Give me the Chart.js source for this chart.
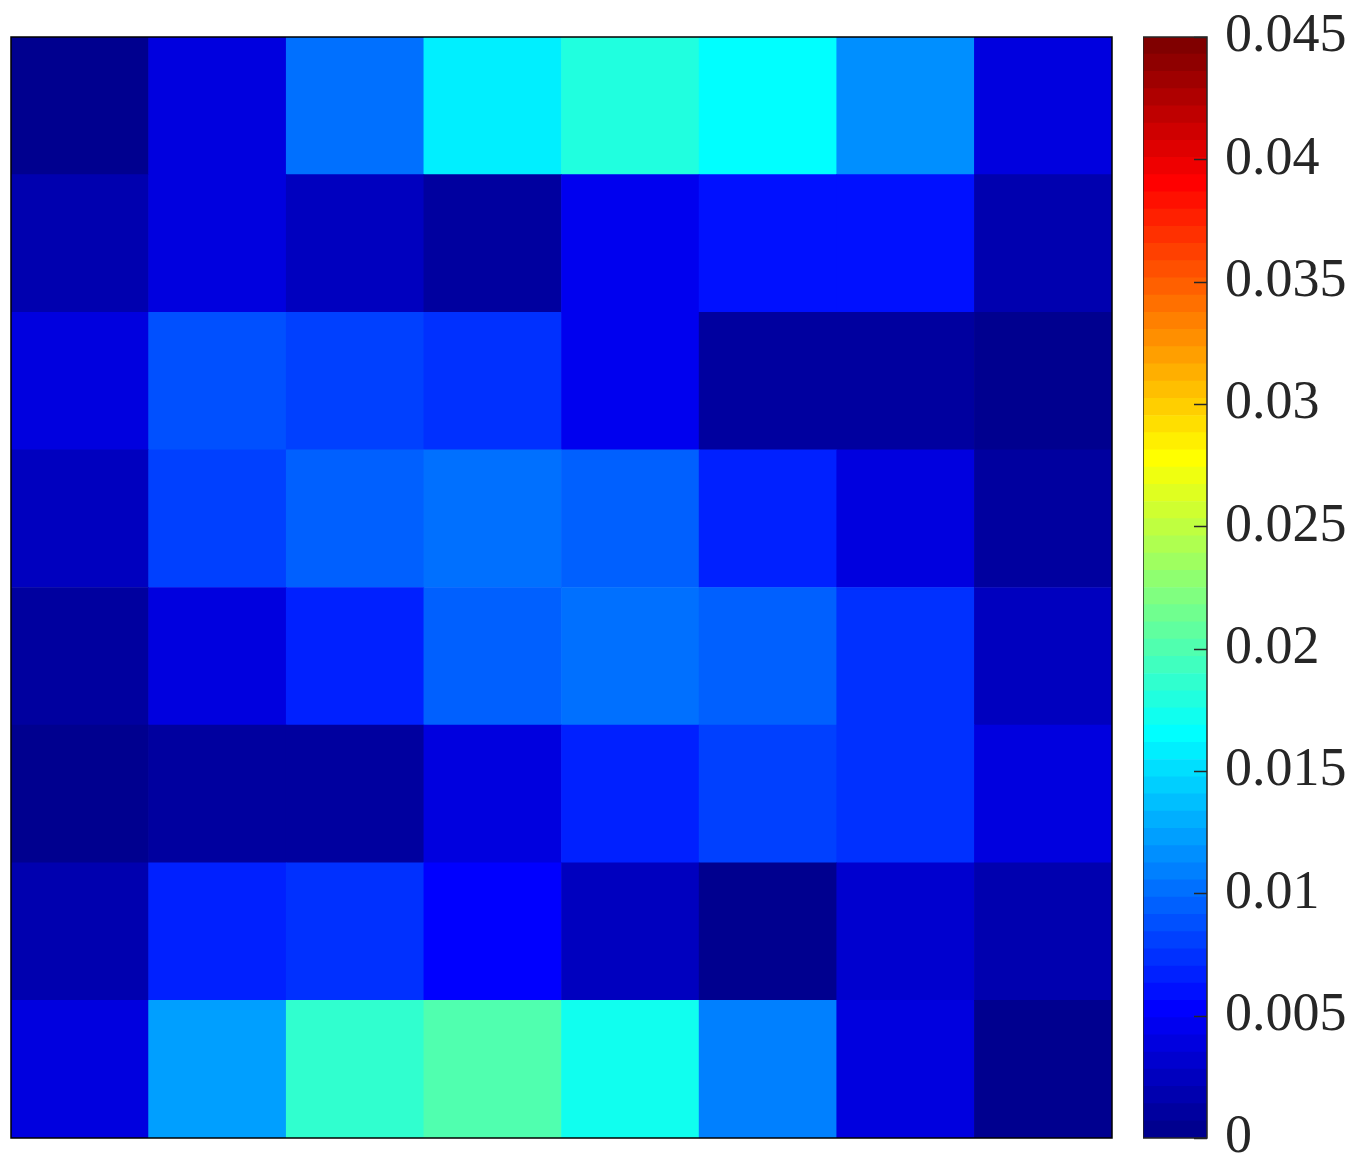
<!DOCTYPE html>
<html>
<head>
<meta charset="utf-8">
<script src="https://cdn.jsdelivr.net/npm/chart.js@4.4.1/dist/chart.umd.min.js"></script>
<style>
  html, body { margin: 0; padding: 0; background: #fff; overflow: hidden; }
  #heat { position: absolute; left: 0; top: 0; width: 1130px; height: 1162px; }
  #cbar { position: absolute; left: 1143px; top: 0; width: 220px; height: 1162px; }
</style>
</head>
<body>
<div id="heat"><canvas id="heatmap"></canvas></div>
<div id="cbar"><canvas id="colorbar"></canvas></div>
<script>
// columns of the grid, rows listed top to bottom
const columns = ['1', '2', '3', '4', '5', '6', '7', '8'];
const row1 = [0.0003, 0.0038, 0.0102, 0.0158, 0.0179, 0.0165, 0.0116, 0.0038];
const row2 = [0.0017, 0.0038, 0.0024, 0.0010, 0.0045, 0.0062, 0.0062, 0.0017];
const row3 = [0.0038, 0.0087, 0.0084, 0.0077, 0.0045, 0.0010, 0.0010, 0.0003];
const row4 = [0.0024, 0.0080, 0.0098, 0.0102, 0.0094, 0.0070, 0.0038, 0.0010];
const row5 = [0.0010, 0.0038, 0.0070, 0.0098, 0.0102, 0.0094, 0.0073, 0.0024];
const row6 = [0.0003, 0.0010, 0.0010, 0.0038, 0.0070, 0.0080, 0.0073, 0.0041];
const row7 = [0.0017, 0.0066, 0.0073, 0.0052, 0.0024, 0.0003, 0.0031, 0.0017];
const row8 = [0.0038, 0.0123, 0.0186, 0.0200, 0.0172, 0.0109, 0.0038, 0.0003];
const rows = [row1, row2, row3, row4, row5, row6, row7, row8];

const cMin = 0, cMax = 0.045;
const cbTicks = [0, 0.005, 0.01, 0.015, 0.02, 0.025, 0.03, 0.035, 0.04, 0.045];
const nColors = 64;

// matlab style jet colormap
function jetMap(n) {
    const q = Math.ceil(n / 4);
    const u = [];
    for (let i = 1; i <= q; i++) u.push(i / q);
    for (let i = 1; i < q; i++) u.push(1);
    for (let i = q; i >= 1; i--) u.push(i / q);
    const off = Math.ceil(q / 2) - (n % 4 === 1 ? 1 : 0);
    const map = Array.from({length: n}, () => [0, 0, 0]);
    u.forEach((v, j) => {
        const g = off + j, r = g + q, b = g - q;
        if (g >= 0 && g < n) map[g][1] = v;
        if (r >= 0 && r < n) map[r][0] = v;
        if (b >= 0 && b < n) map[b][2] = v;
    });
    return map.map(c => `rgb(${Math.round(c[0] * 255)},${Math.round(c[1] * 255)},${Math.round(c[2] * 255)})`);
}
const jet = jetMap(nColors);

function colorFor(v) {
    let idx = Math.floor((v - cMin) / (cMax - cMin) * nColors);
    return jet[Math.max(0, Math.min(nColors - 1, idx))];
}

// heatmap: each row is a stacked bar segment, bottom row first
const heatDatasets = rows.slice().reverse().map((row) => ({
    data: columns.map(() => 1),
    backgroundColor: row.map(colorFor),
    borderWidth: 0,
    barPercentage: 1,
    categoryPercentage: 1
}));

const boxBorder = {
    id: 'boxBorder',
    afterDraw(chart, args, opts) {
        const {ctx, chartArea: a} = chart;
        ctx.save();
        ctx.strokeStyle = opts.color;
        ctx.lineWidth = opts.width;
        ctx.strokeRect(a.left, a.top, a.right - a.left, a.bottom - a.top);
        ctx.restore();
    }
};

new Chart(document.getElementById('heatmap'), {
    type: 'bar',
    data: {labels: columns, datasets: heatDatasets},
    options: {
        responsive: true, maintainAspectRatio: false, animation: false,
        layout: {padding: {left: 11, top: 37, right: 18, bottom: 24}},
        scales: {
            x: {display: false, stacked: true},
            y: {display: false, stacked: true, min: 0, max: rows.length}
        },
        plugins: {
            legend: {display: false}, tooltip: {enabled: false},
            boxBorder: {color: '#000', width: 1.5}
        }
    },
    plugins: [boxBorder]
});

// colorbar: 64 stacked steps of the colormap
const step = (cMax - cMin) / nColors;
const cbDatasets = jet.map((c) => ({
    data: [step], backgroundColor: c, borderWidth: 0,
    barPercentage: 1, categoryPercentage: 1
}));

const inwardTicks = {
    id: 'inwardTicks',
    afterDraw(chart) {
        const {ctx, chartArea: a} = chart;
        const y = chart.scales.y;
        ctx.save();
        ctx.strokeStyle = '#262626';
        ctx.lineWidth = 1.5;
        y.ticks.forEach((t) => {
            const py = Math.round(y.getPixelForValue(t.value)) + 0.5;
            ctx.beginPath();
            ctx.moveTo(a.right - 13, py);
            ctx.lineTo(a.right, py);
            ctx.stroke();
        });
        ctx.restore();
    }
};

new Chart(document.getElementById('colorbar'), {
    type: 'bar',
    data: {labels: ['c'], datasets: cbDatasets},
    options: {
        responsive: true, maintainAspectRatio: false, animation: false,
        layout: {padding: {left: 0, top: 37, right: 0, bottom: 24}},
        scales: {
            x: {display: false, stacked: true},
            y: {
                stacked: true, position: 'right', min: cMin, max: cMax,
                grid: {display: false, drawTicks: false},
                border: {display: false},
                afterBuildTicks: (s) => { s.ticks = cbTicks.map(v => ({value: v})); },
                afterFit: (s) => { s.width = 156; s.paddingTop = 0; s.paddingBottom = 0; },
                ticks: {
                    padding: 18, color: '#262626',
                    font: {family: "'Liberation Serif', 'DejaVu Serif', serif", size: 54},
                    callback: (v) => v === 0 ? '0' : String(+v.toFixed(3))
                }
            }
        },
        plugins: {
            legend: {display: false}, tooltip: {enabled: false},
            boxBorder: {color: '#262626', width: 1.5}
        }
    },
    plugins: [boxBorder, inwardTicks]
});
</script>
</body>
</html>
